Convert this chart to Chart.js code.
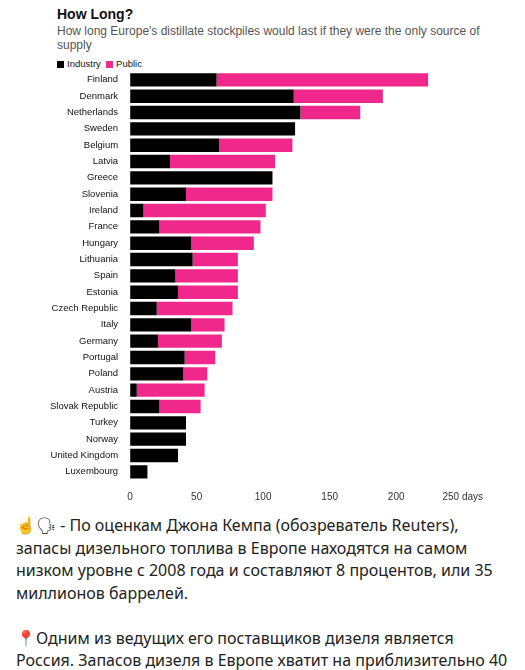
<!DOCTYPE html>
<html><head><meta charset="utf-8">
<script src="https://cdn.jsdelivr.net/npm/chart.js@4"></script>
<style>
body{margin:0;background:#fff;font-family:"Liberation Sans",Arial,sans-serif;width:525px;height:670px;overflow:hidden}
#title{position:absolute;left:57px;top:6px;font-weight:bold;font-size:14px;color:#111}
#sub{position:absolute;left:57px;top:24px;width:430px;font-size:12px;line-height:14px;color:#555}
#leg{position:absolute;left:57px;top:58px;font-size:9.5px;color:#111}
#leg span{display:inline-block;width:7px;height:7px;margin-right:3px;vertical-align:-1px}
#wrap{position:absolute;left:46px;top:62px;width:440px;height:444px}
#txt{position:absolute;left:16px;top:514px;width:500px;font-family:"Noto Sans",sans-serif;font-size:16px;line-height:22.5px;color:#222}
</style></head><body>
<div id="title">How Long?</div>
<div id="sub">How long Europe's distillate stockpiles would last if they were the only source of supply</div>
<div id="leg"><span style="background:#000"></span>Industry&nbsp;&nbsp;<span style="background:#f0288c"></span>Public</div>
<div id="wrap"><canvas id="c"></canvas></div>
<div id="txt">☝️🗣 -  По оценкам Джона Кемпа (обозреватель Reuters), запасы дизельного топлива в Европе находятся на самом низком уровне с 2008 года и составляют 8 процентов, или 35 миллионов баррелей.<br><br>📍Одним из ведущих его поставщиков дизеля является Россия. Запасов дизеля в Европе хватит на приблизительно 40 дней.</div>
<script>
const categories=["Finland","Denmark","Netherlands","Sweden","Belgium","Latvia","Greece","Slovenia","Ireland","France","Hungary","Lithuania","Spain","Estonia","Czech Republic","Italy","Germany","Portugal","Poland","Austria","Slovak Republic","Turkey","Norway","United Kingdom","Luxembourg"];
const totals=[224,190,173,124,122,109,107,107,102,98,93,81,81,81,77,71,69,64,58,56,53,42,42,36,13];
const industry=[65,123,128,124,67,30,107,42,10,22,46,47,34,36,20,46,21,41,40,5,22,42,42,36,13];
const publicVals=totals.map((t,i)=>t-industry[i]);
new Chart(document.getElementById('c'),{type:'bar',
data:{labels:categories,datasets:[
{label:'Industry',data:industry,backgroundColor:'#000',barPercentage:0.82,categoryPercentage:1},
{label:'Public',data:publicVals,backgroundColor:'#f0288c',barPercentage:0.82,categoryPercentage:1}]},
options:{indexAxis:'y',responsive:true,maintainAspectRatio:false,animation:false,
layout:{padding:{right:4}},
plugins:{legend:{display:false},tooltip:{enabled:false}},
scales:{x:{stacked:true,min:0,max:250,grid:{display:false},border:{display:false},
ticks:{stepSize:50,color:'#333',font:{size:10,family:'Liberation Sans'},callback:v=>v===250?'250 days':v}},
y:{stacked:true,grid:{display:false},border:{display:false},
ticks:{color:'#111',font:{size:9.5,family:'Liberation Sans'},padding:4,autoSkip:false}}}}});
</script></body></html>
